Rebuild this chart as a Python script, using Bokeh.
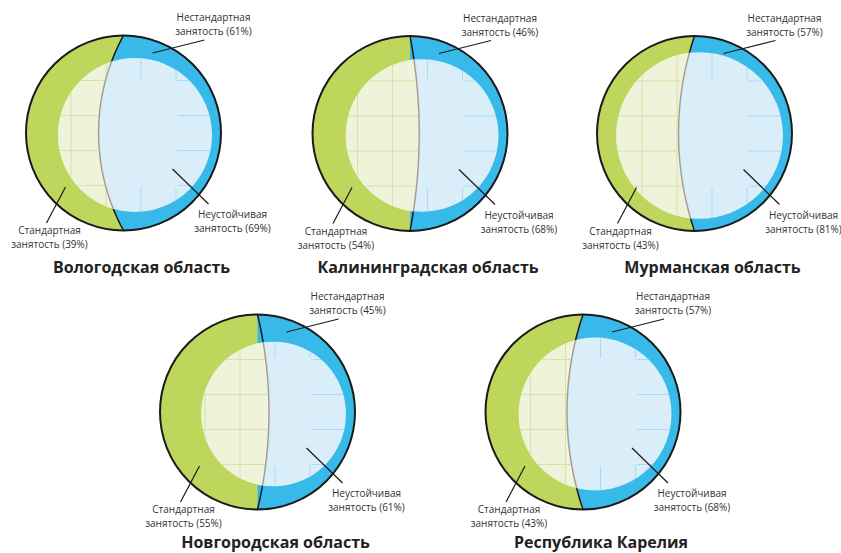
import numpy as np
from bokeh.plotting import figure
from bokeh.models import Range1d
from bokeh.core.properties import value
from bokeh.embed import file_html
from bokeh.resources import INLINE

# ---- data -------------------------------------------------------------
regions = ["Вологодская область", "Калининградская область", "Мурманская область",
           "Новгородская область", "Республика Карелия"]
standard = [39, 54, 43, 55, 43]        # стандартная занятость, %
nonstandard = [61, 46, 57, 45, 57]     # нестандартная занятость, %
unstable = [69, 68, 81, 61, 68]        # неустойчивая занятость, %

# ---- layout (pixels) ----------------------------------------------------
W, H = 841, 553
centers = [(123, 132.5), (409.5, 133), (694, 133), (257, 411.5), (582.5, 411.5)]
title_dy = [133.5, 133.5, 133.5, 129.5, 129.5]
R = 97.5          # outer circle radius
GAP = 9           # blue band width on the right of the inner circle
INNER_K = 0.95
INNER_DY = 2
GRID = [-52.5, -17.5, 17.5, 52.5]
CORE = 53.5       # texture cells inside this square are merged on the blue side

GREEN = "#bfd65c"
BLUE = "#37b9ea"
LGREEN = "#eef3da"
LBLUE = "#d9eef9"
GGRID = "#d6e3a3"
BGRID = "#a9dcf2"
TXT = "#333333"


def seg_area(s):
    a = abs(s)
    if a < 1e-9:
        return 0.0
    rho = (R * R + a * a) / (2 * a)
    alpha = np.arcsin(min(1.0, R / rho))
    return rho * rho / 2 * (2 * alpha - np.sin(2 * alpha))


def solve_sagitta(frac):
    """Signed bulge of the dividing arc so that the left part holds `frac` of the disc."""
    target = (frac - 0.5) * np.pi * R * R
    lo, hi = -0.99 * R, 0.99 * R
    for _ in range(80):
        mid = (lo + hi) / 2
        val = np.sign(mid) * seg_area(mid)
        if val < target:
            lo = mid
        else:
            hi = mid
    return (lo + hi) / 2


def div_x(y, s):
    y = np.asarray(y, dtype=float)
    if abs(s) < 1e-9:
        return np.zeros_like(y)
    a = abs(s)
    rho = (R * R + a * a) / (2 * a)
    return s - np.sign(s) * (rho - np.sqrt(np.maximum(rho * rho - y * y, 0)))


def runs(xs, ys, cats, cx, cy, out):
    start = 0
    n = len(xs)
    for i in range(1, n + 1):
        if i == n or cats[i] != cats[start]:
            if cats[start] is not None and i - 1 > start:
                out[0].append([xs[start] + cx, xs[i - 1] + cx])
                out[1].append([ys[start] + cy, ys[i - 1] + cy])
                out[2].append(GGRID if cats[start] == "g" else BGRID)
            start = i


p = figure(width=W, height=H, x_range=Range1d(0, W), y_range=Range1d(H, 0),
           output_backend="svg", toolbar_location=None, min_border=0)
p.axis.visible = False
p.grid.visible = False
p.outline_line_color = None
p.background_fill_color = "white"
p.border_fill_color = "white"

font = value("Open Sans")

for k, ((cx, cy), name, st, ns, un) in enumerate(zip(centers, regions, standard, nonstandard, unstable)):
    s = solve_sagitta(st / 100)

    # outer halves
    yd = np.linspace(R, -R, 200)
    xd = div_x(yd, s)
    th_l = np.linspace(-np.pi / 2, -3 * np.pi / 2, 200)
    th_r = np.linspace(-np.pi / 2, np.pi / 2, 200)
    gx = np.concatenate([R * np.cos(th_l), xd]) + cx
    gy = np.concatenate([R * np.sin(th_l), yd]) + cy
    bx = np.concatenate([R * np.cos(th_r), xd[::-1]]) + cx
    by = np.concatenate([R * np.sin(th_r), yd[::-1]]) + cy
    p.patch(gx, gy, fill_color=GREEN, line_color=None)
    p.patch(bx, by, fill_color=BLUE, line_color=None)
    p.line(xd + cx, yd + cy, line_color="#1a1a1a", line_width=1.5)

    # inner circle, sized by the unstable share
    r = INNER_K * R * np.sqrt(un / 100)
    dx = R - GAP - r
    dy = INNER_DY
    p.circle(x=[cx + dx], y=[cy + dy], radius=r, fill_color=LBLUE, line_color=None)

    th = np.linspace(0, np.pi, 700)
    yi = dy - r * np.cos(th)
    half = r * np.sin(th)
    xl = dx - half
    xrc = dx + half
    xdi = div_x(yi, s)
    xr = np.clip(xdi, xl, xrc)
    p.patch(np.concatenate([xl, xr[::-1]]) + cx, np.concatenate([yi, yi[::-1]]) + cy,
            fill_color=LGREEN, line_color=None)

    # faint table texture inside the inner circle
    out = ([], [], [])
    for g in GRID:
        if abs(g - dx) < r - 1:
            hh = np.sqrt(r * r - (g - dx) ** 2)
            ys = np.linspace(dy - hh, dy + hh, 160)
            xs = np.full_like(ys, g)
            left = xs < div_x(ys, s)
            cats = ["g" if lf else ("b" if abs(yy) > CORE else None) for lf, yy in zip(left, ys)]
            runs(xs, ys, cats, cx, cy, out)
        if abs(g - dy) < r - 1:
            hw = np.sqrt(r * r - (g - dy) ** 2)
            xs = np.linspace(dx - hw, dx + hw, 160)
            ys = np.full_like(xs, g)
            left = xs < div_x(ys, s)
            cats = ["g" if lf else ("b" if abs(xx) > CORE else None) for lf, xx in zip(left, xs)]
            runs(xs, ys, cats, cx, cy, out)
    p.multi_line(out[0], out[1], line_color=out[2], line_width=1)

    # dividing arc inside the inner circle
    m = (xdi > xl) & (xdi < xrc)
    p.line(xdi[m] + cx + 0.8, yi[m] + cy, line_color="#e2e2e2", line_width=1.5)
    p.line(xdi[m] + cx, yi[m] + cy, line_color="#9d9d9d", line_width=1.4)

    # outer outline
    p.circle(x=[cx], y=[cy], radius=R, fill_color=None, line_color="#1a1a1a", line_width=2)

    # leader lines
    p.segment(x0=[cx + 29, cx + 49, cx - 58], y0=[cy - 80, cy + 36, cy + 54],
              x1=[cx + 81, cx + 85, cx - 77], y1=[cy - 93, cy + 71, cy + 90],
              line_color="#1a1a1a", line_width=1.2)

    # labels
    lx = [cx + 90, cx + 90, cx + 109, cx + 109, cx - 74, cx - 74]
    ly = [cy - 116, cy - 102, cy + 81, cy + 95, cy + 97, cy + 111]
    lt = ["Нестандартная", f"занятость ({ns}%)",
          "Неустойчивая", f"занятость ({un}%)",
          "Стандартная", f"занятость ({st}%)"]
    p.text(x=lx, y=ly, text=lt, text_font=font, text_font_size="10px",
           text_align="center", text_baseline="middle", text_color=TXT)

    p.text(x=[cx + 18], y=[cy + title_dy[k]], text=[name], text_font=font, text_font_size="16px",
           text_font_style="bold", text_align="center", text_baseline="middle",
           text_color="#222222")

open("out.html", "w").write(file_html(p, INLINE))
